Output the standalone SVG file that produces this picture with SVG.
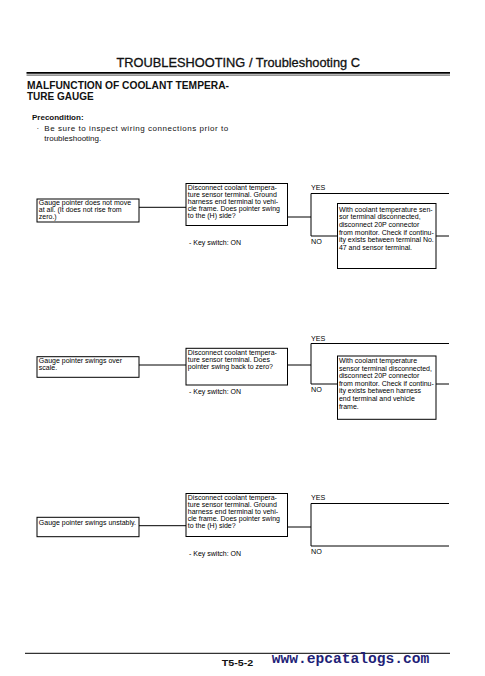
<svg xmlns="http://www.w3.org/2000/svg" width="485" height="676" viewBox="0 0 485 676">
<style>
  .bg { fill: #ffffff; }
  .box { fill: #ffffff; stroke: #000; stroke-width: 1; }
  .ln { stroke: #000; stroke-width: 1; fill: none; }
  .t { font-family: "Liberation Sans", Arial, sans-serif; font-size: 7px; fill: #000; }
  .lbl { font-family: "Liberation Sans", Arial, sans-serif; font-size: 7.2px; fill: #000; }
  .hdr { font-family: "Liberation Sans", Arial, sans-serif; font-size: 13px; fill: #111; stroke: #111; stroke-width: 0.3; }
  .ttl { font-family: "Liberation Sans", Arial, sans-serif; font-size: 10px; font-weight: bold; fill: #111; }
  .pre { font-family: "Liberation Sans", Arial, sans-serif; font-size: 8px; fill: #111; }
  .url { font-family: "Liberation Mono", "Courier New", monospace; font-size: 14.5px; font-weight: bold; fill: #1f1f78; }
</style>
<rect class="bg" x="0" y="0" width="485" height="676"/>

<g id="header">
  <text class="hdr" x="116.5" y="66.7" textLength="243.5" lengthAdjust="spacingAndGlyphs">TROUBLESHOOTING / Troubleshooting C</text>
  <line x1="26.5" y1="72.8" x2="450" y2="72.8" stroke="#000" stroke-width="1.7"/>
  <line x1="26.5" y1="75.1" x2="450" y2="75.1" stroke="#000" stroke-width="0.7"/>
</g>

<g id="title">
  <text class="ttl" x="27" y="89.3" textLength="202" lengthAdjust="spacingAndGlyphs">MALFUNCTION OF COOLANT TEMPERA-</text>
  <text class="ttl" x="27" y="100">TURE GAUGE</text>
</g>

<g id="precondition">
  <text class="pre" x="32" y="120" font-weight="bold">Precondition:</text>
  <text class="pre" x="36.5" y="130.5">·</text>
  <text class="pre" x="44.3" y="130.5" textLength="184" lengthAdjust="spacing">Be sure to inspect wiring connections prior to</text>
  <text class="pre" x="44.3" y="140.7">troubleshooting.</text>
</g>

<g id="connectors">
  <!-- flow 1 -->
  <line class="ln" x1="139" y1="207.3" x2="186" y2="207.3"/>
  <line class="ln" x1="287.5" y1="217" x2="311" y2="217"/>
  <line class="ln" x1="311" y1="193.5" x2="311" y2="236"/>
  <line class="ln" x1="311" y1="193.5" x2="449" y2="193.5"/>
  <line class="ln" x1="311" y1="236" x2="337.5" y2="236"/>
  <line class="ln" x1="436" y1="236" x2="449" y2="236"/>
  <!-- flow 2 -->
  <line class="ln" x1="139" y1="365" x2="186" y2="365"/>
  <line class="ln" x1="287.5" y1="365" x2="311" y2="365"/>
  <line class="ln" x1="311" y1="343.5" x2="311" y2="384"/>
  <line class="ln" x1="311" y1="343.5" x2="449" y2="343.5"/>
  <line class="ln" x1="311" y1="384" x2="337.5" y2="384"/>
  <line class="ln" x1="436" y1="384" x2="449" y2="384"/>
  <!-- flow 3 -->
  <line class="ln" x1="139" y1="525.7" x2="186" y2="525.7"/>
  <line class="ln" x1="287.5" y1="527" x2="311" y2="527"/>
  <line class="ln" x1="311" y1="503.5" x2="311" y2="546"/>
  <line class="ln" x1="311" y1="503.5" x2="449" y2="503.5"/>
  <line class="ln" x1="311" y1="546" x2="449" y2="546"/>
  <!-- labels -->
  <text class="lbl" x="311" y="190">YES</text>
  <text class="lbl" x="311" y="243.5">NO</text>
  <text class="lbl" x="311" y="340.5">YES</text>
  <text class="lbl" x="311" y="391.5">NO</text>
  <text class="lbl" x="311" y="500">YES</text>
  <text class="lbl" x="311" y="553.5">NO</text>
</g>

<g id="a1">
  <rect class="box" x="37" y="199" width="102" height="23"/>
  <text class="t" x="38.8" y="205.3">Gauge pointer does not move</text>
  <text class="t" x="38.8" y="212.3">at all. (It does not rise from</text>
  <text class="t" x="38.8" y="219.3">zero.)</text>
</g>
<g id="b1">
  <rect class="box" x="186" y="183.5" width="101.5" height="42"/>
  <text class="t" x="187.8" y="189.7">Disconnect coolant tempera-</text>
  <text class="t" x="187.8" y="196.7">ture sensor terminal. Ground</text>
  <text class="t" x="187.8" y="203.7">harness end terminal to vehi-</text>
  <text class="t" x="187.8" y="210.7">cle frame. Does pointer swing</text>
  <text class="t" x="187.8" y="217.7">to the (H) side?</text>
  <text class="t" x="189" y="245">- Key switch: ON</text>
</g>
<g id="c1">
  <rect class="box" x="337.5" y="203.5" width="98.5" height="65"/>
  <text class="t" x="338.9" y="211.7">With coolant temperature sen-</text>
  <text class="t" x="338.9" y="219.3">sor terminal disconnected,</text>
  <text class="t" x="338.9" y="226.9">disconnect 20P connector</text>
  <text class="t" x="338.9" y="234.5">from monitor. Check if continu-</text>
  <text class="t" x="338.9" y="242.1">ity exists between terminal No.</text>
  <text class="t" x="338.9" y="249.7">47 and sensor terminal.</text>
</g>

<g id="a2">
  <rect class="box" x="37" y="356.7" width="102" height="20.6"/>
  <text class="t" x="38.8" y="363">Gauge pointer swings over</text>
  <text class="t" x="38.8" y="370">scale.</text>
</g>
<g id="b2">
  <rect class="box" x="186" y="348.3" width="101.5" height="36.7"/>
  <text class="t" x="187.8" y="354.7">Disconnect coolant tempera-</text>
  <text class="t" x="187.8" y="361.7">ture sensor terminal. Does</text>
  <text class="t" x="187.8" y="368.7">pointer swing back to zero?</text>
  <text class="t" x="189" y="393.5">- Key switch: ON</text>
</g>
<g id="c2">
  <rect class="box" x="337.5" y="356" width="98.5" height="63.3"/>
  <text class="t" x="338.9" y="363">With coolant temperature</text>
  <text class="t" x="338.9" y="370.6">sensor terminal disconnected,</text>
  <text class="t" x="338.9" y="378.2">disconnect 20P connector</text>
  <text class="t" x="338.9" y="385.8">from monitor. Check if continu-</text>
  <text class="t" x="338.9" y="393.4">ity exists between harness</text>
  <text class="t" x="338.9" y="401">end terminal and vehicle</text>
  <text class="t" x="338.9" y="408.6">frame.</text>
</g>

<g id="a3">
  <rect class="box" x="37" y="517.3" width="102" height="19.4"/>
  <text class="t" x="38.8" y="524.5">Gauge pointer swings unstably.</text>
</g>
<g id="b3">
  <rect class="box" x="186" y="493.5" width="101.5" height="43"/>
  <text class="t" x="187.8" y="500">Disconnect coolant tempera-</text>
  <text class="t" x="187.8" y="507">ture sensor terminal. Ground</text>
  <text class="t" x="187.8" y="514">harness end terminal to vehi-</text>
  <text class="t" x="187.8" y="521">cle frame. Does pointer swing</text>
  <text class="t" x="187.8" y="528">to the (H) side?</text>
  <text class="t" x="189" y="556">- Key switch: ON</text>
</g>

<g id="footer">
  <line x1="25" y1="653.3" x2="450" y2="653.3" stroke="#000" stroke-width="1"/>
  <text x="221.7" y="665.5" font-family="Liberation Sans, Arial, sans-serif" font-size="9" font-weight="bold" fill="#111" textLength="31.5" lengthAdjust="spacingAndGlyphs">T5-5-2</text>
  <text class="url" x="271.7" y="662.7" textLength="157.6" lengthAdjust="spacingAndGlyphs">www.epcatalogs.com</text>
</g>
</svg>
